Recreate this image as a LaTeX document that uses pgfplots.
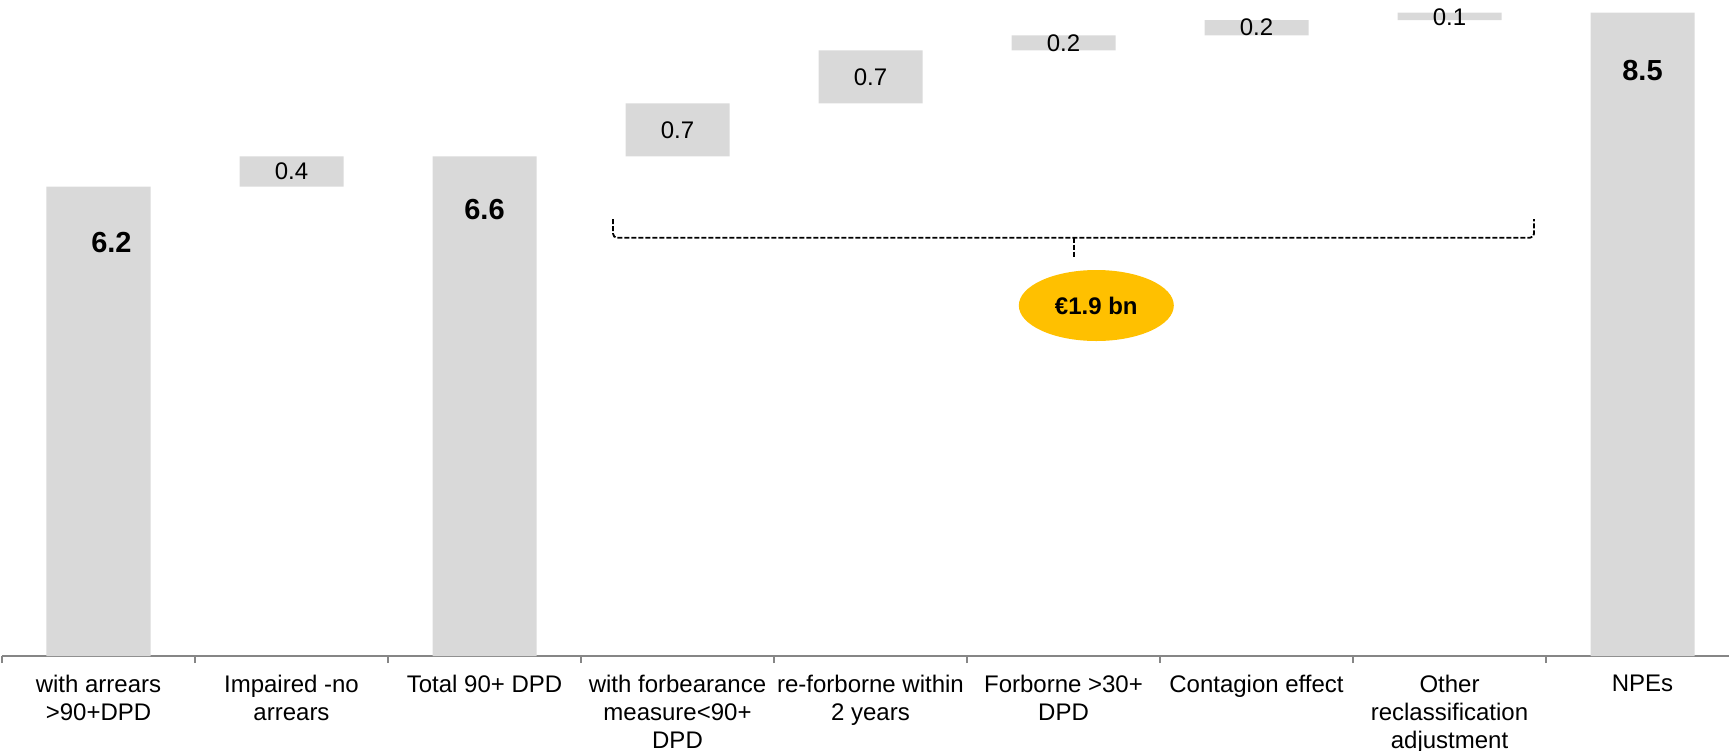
\documentclass[border=0pt]{standalone}
\usepackage{pgfplots}
\pgfplotsset{compat=1.18}
\usepackage{pgfplotstable}
\usetikzlibrary{shapes.geometric}
\usepackage{fontspec}
\setmainfont{Liberation Sans}

\definecolor{bargray}{HTML}{D9D9D9}
\definecolor{gold}{HTML}{FFC000}
\definecolor{axisgray}{HTML}{868686}

% waterfall: invisible base + visible step
\pgfplotstableread{
x base delta
0 0   6.2
1 6.2 0.4
2 0   6.6
3 6.6 0.7
4 7.3 0.7
5 8.0 0.2
6 8.2 0.2
7 8.4 0.1
8 0   8.5
}\bridge

\pgfplotstableread{
x y lab
1 6.4  0.4
3 6.95 0.7
4 7.65 0.7
5 8.1  0.2
6 8.3  0.2
7 8.44 0.1
}\steplabels

\pgfplotstableread{
x     y    lab
0.067 5.46 6.2
2     5.9  6.6
8     7.74 8.5
}\totallabels

\pgfplotsset{
  frame/.style={scale only axis, width=868.5pt, height=328pt,
    xmin=-0.5, xmax=8.5, ymin=0, ymax=8.666,
    at={(1pt,47pt)}, anchor=south west},
}

\begin{document}
\begin{tikzpicture}
\useasboundingbox (0,0) rectangle (864.5pt,375pt);
\clip (0,0) rectangle (864.5pt,375pt);

\begin{axis}[frame,
  ybar stacked, bar width=52pt,
  axis x line*=bottom, axis y line=none,
  x axis line style={axisgray, line width=0.8pt},
  xtick={0,...,8}, major tick length=0pt,
  minor xtick={-0.5,0.5,...,8.5}, minor tick length=3.5pt, tick align=outside,
  minor tick style={axisgray, line width=0.6pt},
  xticklabels={{with arrears\\>90+DPD},{Impaired -no\\arrears},{Total 90+ DPD},
    {with forbearance\\measure<90+\\DPD},{re-forborne within\\2 years},
    {Forborne >30+\\DPD},{Contagion effect},{Other\\reclassification\\adjustment},{NPEs}},
  xticklabel style={align=center, font=\fontsize{12}{14}\selectfont, yshift=-6pt},
  ytick=\empty, clip=false]
\addplot[draw=none, fill=none] table[x=x, y=base] {\bridge};
\addplot[draw=none, fill=bargray] table[x=x, y=delta] {\bridge};

% dashed brace over the reclassification steps
\draw[black, line width=0.9pt, dash pattern=on 2.5pt off 1pt, rounded corners=2pt]
  (axis cs:2.666,5.77) -- (axis cs:2.666,5.526) -- (axis cs:7.438,5.526) -- (axis cs:7.438,5.77);
\draw[black, line width=0.9pt, dash pattern=on 2.5pt off 1pt]
  (axis cs:5.054,5.526) -- (axis cs:5.054,5.27);
\end{axis}

\begin{axis}[frame, hide axis, clip=false]
\addplot[only marks, mark=none, nodes near coords, point meta=explicit symbolic,
  nodes near coords style={anchor=center, font=\fontsize{12}{14}\selectfont}]
  table[x=x, y=y, meta=lab] {\steplabels};
\addplot[only marks, mark=none, nodes near coords, point meta=explicit symbolic,
  nodes near coords style={anchor=center, font=\bfseries\fontsize{14.5}{17}\selectfont}]
  table[x=x, y=y, meta=lab] {\totallabels};
\node[ellipse, fill=gold, inner sep=0pt, minimum width=77.5pt, minimum height=35.5pt,
  font=\bfseries\fontsize{12}{14}\selectfont] at (axis cs:5.17,4.63) {€1.9 bn};
\end{axis}
\end{tikzpicture}
\end{document}
